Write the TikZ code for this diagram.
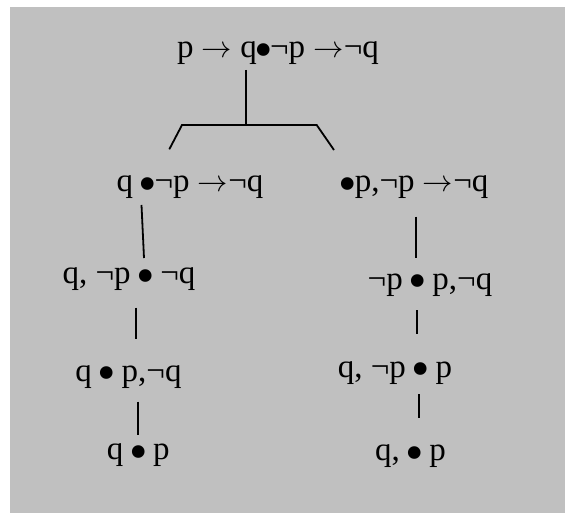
\documentclass[tikz,border=0pt]{standalone}
\usepackage{fontspec}
\usepackage{graphicx}
\setmainfont{Liberation Serif}
\definecolor{bggray}{RGB}{192,192,192}
\newcommand{\arr}{\resizebox{0.92em}{!}{$\rightarrow$}}
\newcommand{\bul}{\makebox[0.4em]{\raisebox{-0.29em}{\scalebox{1.6}{•}}}}
\tikzset{
  lbl/.style={anchor=base, inner sep=0pt, font=\fontsize{33}{36}\selectfont},
  branch/.style={line width=1.8pt, black}
}
\begin{document}
\begin{tikzpicture}[x=1pt, y=-1pt]
\useasboundingbox (0,0) rectangle (565,513);
\fill[bggray] (9.5,7) rectangle (565,513);
% nodes
\node[lbl] (top) at (278,58) {p \arr{} q\bul¬p \arr¬q};
\node[lbl] (l1) at (190,192) {q \bul¬p \arr¬q};
\node[lbl] (r1) at (415,192) {\bul p,¬p \arr¬q};
\node[lbl] (l2) at (129,283.5) {q, ¬p \bul{} ¬q};
\node[lbl] (r2) at (430,289) {¬p \bul{} p,¬q};
\node[lbl] (l3) at (128.5,381) {q \bul{} p,¬q};
\node[lbl] (r3) at (395,377) {q, ¬p \bul{} p};
\node[lbl] (l4) at (138.3,459.6) {q \bul{} p};
\node[lbl] (r4) at (410.5,460.5) {q, \bul{} p};
% connector end points
\coordinate (t0) at (246,70);
\coordinate (t1) at (246,125);
\coordinate (hl) at (182,125);
\coordinate (hr) at (316.7,125);
\coordinate (dl) at (169.3,149.3);
\coordinate (dr) at (334,150);
\coordinate (a0) at (141.5,205);
\coordinate (a1) at (144,258);
\coordinate (b0) at (136,307.5);
\coordinate (b1) at (136,339);
\coordinate (c0) at (138,401.7);
\coordinate (c1) at (138,435);
\coordinate (d0) at (415.7,216.7);
\coordinate (d1) at (415.7,258.3);
\coordinate (e0) at (417.3,310);
\coordinate (e1) at (417.3,334.3);
\coordinate (f0) at (419,394.3);
\coordinate (f1) at (419,418.3);
% connectors
\draw[branch] (t0) -- (t1);
\draw[branch] (dl) -- (hl) -- (hr) -- (dr);
\draw[branch] (a0) -- (a1);
\draw[branch] (b0) -- (b1);
\draw[branch] (c0) -- (c1);
\draw[branch] (d0) -- (d1);
\draw[branch] (e0) -- (e1);
\draw[branch] (f0) -- (f1);
\end{tikzpicture}
\end{document}
